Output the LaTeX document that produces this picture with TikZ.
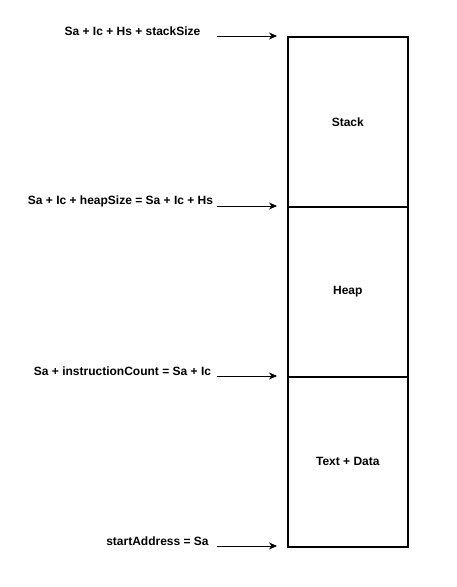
\documentclass[tikz,border=0pt]{standalone}
\usepackage{fontspec}
\setmainfont{Liberation Sans}
\usetikzlibrary{arrows.meta}
\begin{document}
\begin{tikzpicture}[x=1pt,y=-1pt,
  seg/.style={draw=black,line width=1.6pt,minimum width=120pt,minimum height=170pt,inner sep=0pt,font=\bfseries\fontsize{12}{14}\selectfont,anchor=north west},
  lbl/.style={font=\bfseries\fontsize{12}{14}\selectfont,inner sep=0pt},
  ptr/.style={-{Stealth[length=8pt,width=7pt,inset=2.5pt]},line width=0.8pt}]
\useasboundingbox (0,0) rectangle (456,587);
\node[seg] (stack) at (287,36) {Stack};
\node[seg] (heap) at (287,206) {Heap};
\node[seg] (text) at (287,376) {Text + Data};
\node[lbl] (l1) at (132.5,31) {Sa + Ic + Hs + stackSize};
\node[lbl] (l2) at (120.5,201) {Sa + Ic + heapSize = Sa + Ic + Hs};
\node[lbl] (l3) at (122.5,371) {Sa + instructionCount = Sa + Ic};
\node[lbl] (l4) at (157.5,541) {startAddress = Sa};
\coordinate (a1) at (217,36); \coordinate (b1) at (277,36);
\coordinate (a2) at (217,206); \coordinate (b2) at (277,206);
\coordinate (a3) at (217,376); \coordinate (b3) at (277,376);
\coordinate (a4) at (217,546); \coordinate (b4) at (277,546);
\draw[ptr] (a1) -- (b1);
\draw[ptr] (a2) -- (b2);
\draw[ptr] (a3) -- (b3);
\draw[ptr] (a4) -- (b4);
\end{tikzpicture}
\end{document}
